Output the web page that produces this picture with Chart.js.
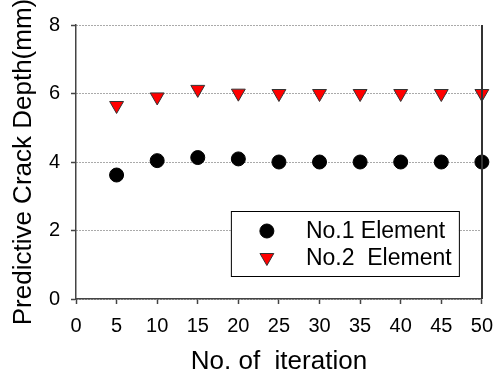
<!DOCTYPE html>
<html>
<head>
<meta charset="utf-8">
<title>Predictive Crack Depth</title>
<script src="https://cdn.jsdelivr.net/npm/chart.js@4/dist/chart.umd.min.js"></script>
<style>
  html, body { margin: 0; padding: 0; background: #fff; }
  #wrap { width: 503px; height: 379px; position: relative; }
</style>
</head>
<body>
<div id="wrap"><canvas id="chart"></canvas></div>
<script>
const iterations = [5, 10, 15, 20, 25, 30, 35, 40, 45, 50];
const element1 = [3.62, 4.04, 4.13, 4.09, 4.0, 4.0, 4.0, 4.0, 4.0, 4.0];
const element2 = [5.65, 5.9, 6.12, 6.01, 6.0, 6.0, 6.0, 6.0, 6.0, 6.0];
const seriesNames = ['No.1 Element', 'No.2  Element'];
const xTicks = [0, 5, 10, 15, 20, 25, 30, 35, 40, 45, 50];
const yTicks = [0, 2, 4, 6, 8];

const FONT = '"Liberation Sans", Arial, sans-serif';

const toPoints = (vals) => iterations.map((x, i) => ({ x: x, y: vals[i] }));

// solid right edge of the plot frame (drawn over the last markers, as in the original)
const rightEdge = {
  id: 'rightEdge',
  afterDatasetsDraw(chart) {
    const { ctx, chartArea } = chart;
    const x = Math.round(chartArea.right);
    ctx.save();
    ctx.strokeStyle = '#333';
    ctx.lineWidth = 2;
    ctx.beginPath();
    ctx.moveTo(x, chartArea.top);
    ctx.lineTo(x, chartArea.bottom);
    ctx.stroke();
    ctx.restore();
  }
};

// legend box inside the plot, bottom right
const boxLegend = {
  id: 'boxLegend',
  afterDatasetsDraw(chart) {
    const { ctx, chartArea } = chart;
    const right = chartArea.right - 23;
    const bottom = chartArea.bottom - 23;
    const w = 228, h = 65;
    const left = right - w, top = bottom - h;
    ctx.save();
    ctx.fillStyle = '#fff';
    ctx.fillRect(left, top, w, h);
    ctx.strokeStyle = '#000';
    ctx.lineWidth = 1;
    ctx.strokeRect(left + 0.5, top + 0.5, w, h);

    ctx.font = '23px ' + FONT;
    ctx.fillStyle = '#000';
    ctx.textBaseline = 'middle';
    chart.data.datasets.forEach((ds, i) => {
      const cy = top + 20 + i * 26.5;
      ctx.save();
      ctx.fillStyle = ds.backgroundColor;
      ctx.strokeStyle = ds.borderColor;
      ctx.lineWidth = ds.borderWidth;
      Chart.helpers.drawPoint(ctx, {
        pointStyle: ds.pointStyle,
        radius: ds.pointRadius,
        rotation: ds.rotation || 0,
        borderWidth: ds.borderWidth
      }, left + 36, cy);
      ctx.restore();
      ctx.fillText(ds.label, left + 75, cy + 1);
    });
    ctx.restore();
  }
};

new Chart(document.getElementById('chart'), {
  type: 'scatter',
  data: {
    datasets: [
      {
        label: seriesNames[0],
        data: toPoints(element1),
        pointStyle: 'circle',
        pointRadius: 7,
        pointHoverRadius: 7,
        backgroundColor: '#000',
        borderColor: '#000',
        borderWidth: 1,
        clip: false
      },
      {
        label: seriesNames[1],
        data: toPoints(element2),
        pointStyle: 'triangle',
        rotation: 180,
        pointRadius: 8,
        pointHoverRadius: 8,
        backgroundColor: '#ff0000',
        borderColor: '#333',
        borderWidth: 1,
        clip: false
      }
    ]
  },
  options: {
    responsive: true,
    maintainAspectRatio: false,
    animation: false,
    events: [],
    layout: { padding: { top: 25, right: 18, left: 0, bottom: 0 } },
    plugins: { legend: { display: false }, tooltip: { enabled: false } },
    scales: {
      x: {
        type: 'linear',
        min: 0,
        max: 50,
        afterBuildTicks: (s) => { s.ticks = xTicks.map(v => ({ value: v })); },
        afterFit: (s) => { s.height = 80; },
        ticks: { color: '#000', padding: 10, font: { family: FONT, size: 20 } },
        grid: { drawOnChartArea: false, tickLength: 5, tickColor: '#444', tickWidth: 1.5 },
        border: { color: '#444', width: 1.5 },
        title: {
          display: true,
          text: 'No. of  iteration',
          color: '#000',
          font: { family: FONT, size: 26 },
          padding: { top: 0, bottom: 2 }
        }
      },
      y: {
        type: 'linear',
        min: 0,
        max: 8,
        afterBuildTicks: (s) => { s.ticks = yTicks.map(v => ({ value: v })); },
        afterFit: (s) => { s.width = 76; },
        ticks: { color: '#000', padding: 11, font: { family: FONT, size: 20 } },
        grid: { color: '#555', lineWidth: 1, tickLength: 5, tickColor: '#444', tickWidth: 1.5, tickBorderDash: [] },
        border: { color: '#444', width: 1.5, dash: [1, 2] },
        title: {
          display: true,
          text: 'Predictive Crack Depth(mm)',
          color: '#000',
          font: { family: FONT, size: 26 },
          padding: { top: 8, bottom: 0 }
        }
      }
    }
  },
  plugins: [rightEdge, boxLegend]
});
</script>
</body>
</html>
